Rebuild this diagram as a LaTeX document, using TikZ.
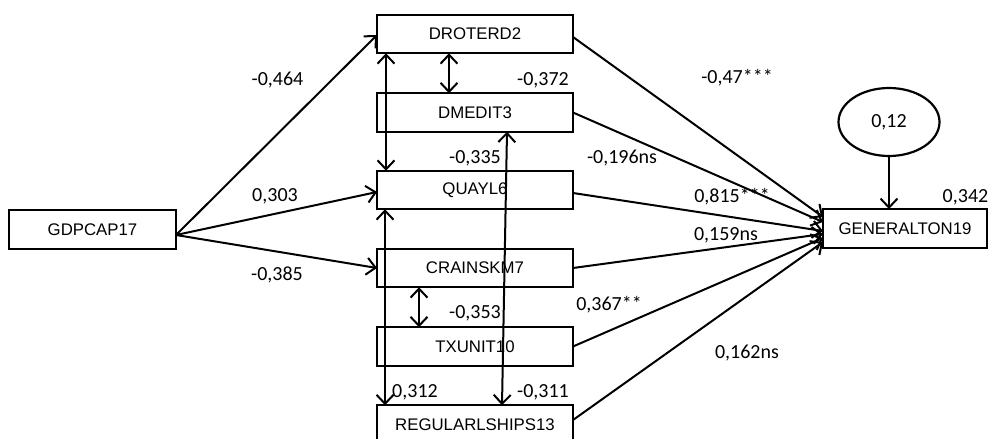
\documentclass[tikz,border=0pt]{standalone}
\usepackage{fontspec}
\setmainfont{Liberation Sans}
\newfontfamily\numfont{Carlito}
\usetikzlibrary{arrows.meta,shapes.geometric}

\tikzset{
  var/.style={draw, line width=2.2pt, rectangle, inner sep=0pt, outer sep=0pt,
    minimum width=196pt, minimum height=38.5pt, fill=white,
    font=\fontsize{16.8}{19}\selectfont},
  errvar/.style={draw, line width=2.2pt, ellipse, inner sep=0pt, outer sep=0pt,
    minimum width=101pt, minimum height=68pt, font=\numfont\fontsize{20}{24}\selectfont},
  coef/.style={inner sep=0pt, font=\numfont\fontsize{20}{24}\selectfont},
  effect/.style={line width=2pt, -{Straight Barb[length=9pt,width=17pt]}},
  cov/.style={line width=2pt, {Straight Barb[length=9pt,width=17pt]}-{Straight Barb[length=9pt,width=17pt]}},
}

\begin{document}
\begin{tikzpicture}[x=1pt, y=-1pt]
\clip (0,0) rectangle (988,439);

% observed variables
\node[var, minimum width=167pt, minimum height=39pt] (gdp) at (92.5,229.5) {GDPCAP17};
\node[var] (dro) at (475,34) {DROTERD2};
\node[var] (dme) at (475,112.5) {DMEDIT3};
\node[var] (qua) at (475,190) {QUAYL6};
\node[var] (cra) at (475,268) {CRAINSKM7};
\node[var] (txu) at (475,346.5) {TXUNIT10};
\node[var] (reg) at (475,424.5) {REGULARLSHIPS13};
\node[var, minimum width=164pt, minimum height=39pt] (gen) at (905,228.5) {GENERALTON19};

% disturbance
\node[errvar] (err) at (889,122) {0,12};

% paths from GDPCAP17
\draw[effect] ([yshift=-5.5pt]gdp.east) -- ([yshift=-1pt]dro.west);
\draw[effect] ([yshift=-5.5pt]gdp.east) -- ([yshift=-2pt]qua.west);
\draw[effect] ([yshift=-5.5pt]gdp.east) -- (cra.west);

% paths into GENERALTON19
\draw[effect] ([yshift=-3pt]dro.east) -- ([yshift=11.5pt]gen.west);
\draw[effect] (dme.east) -- ([yshift=6.5pt]gen.west);
\draw[effect] ([yshift=-3pt]qua.east) -- ([yshift=-2.5pt]gen.west);
\draw[effect] (cra.east) -- ([yshift=-5.5pt]gen.west);
\draw[effect] (txu.east) -- ([yshift=-9.5pt]gen.west);
\draw[effect] ([yshift=4.5pt]reg.east) -- ([yshift=-13.5pt]gen.west);
\draw[effect] (err.south) -- (err.south |- gen.north);

% covariances
\draw[cov] ([xshift=-26pt]dro.south) -- ([xshift=-26pt]dme.north);
\draw[cov] ([xshift=9pt]dro.south west) -- ([xshift=9pt]qua.north west);
\draw[cov] ([xshift=8pt]qua.south west) -- ([xshift=8pt]reg.north west);
\draw[cov] ([xshift=32pt]dme.south) -- ([xshift=27pt]reg.north);
\draw[cov] ([xshift=42pt]cra.south west) -- ([xshift=42pt]txu.north west);

% coefficients
\node[coef] (c1) at (277.5,80) {-0,464};
\node[coef] (c2) at (275,196) {0,303};
\node[coef] (c3) at (277,275) {-0,385};
\node[coef] (c4) at (543,80) {-0,372};
\node[coef] (c5) at (475,158) {-0,335};
\node[coef] (c6) at (475,313) {-0,353};
\node[coef] (c7) at (415,392) {0,312};
\node[coef] (c8) at (543,392) {-0,311};
\node[coef] (c9) at (737,78) {-0,47***};
\node[coef] (c10) at (622,158) {-0,196ns};
\node[coef] (c11) at (732,197) {0,815***};
\node[coef] (c12) at (726,235) {0,159ns};
\node[coef] (c13) at (609,305) {0,367**};
\node[coef] (c14) at (747,353) {0,162ns};
\node[coef] (r2) at (965.5,197) {0,342};
\end{tikzpicture}
\end{document}
